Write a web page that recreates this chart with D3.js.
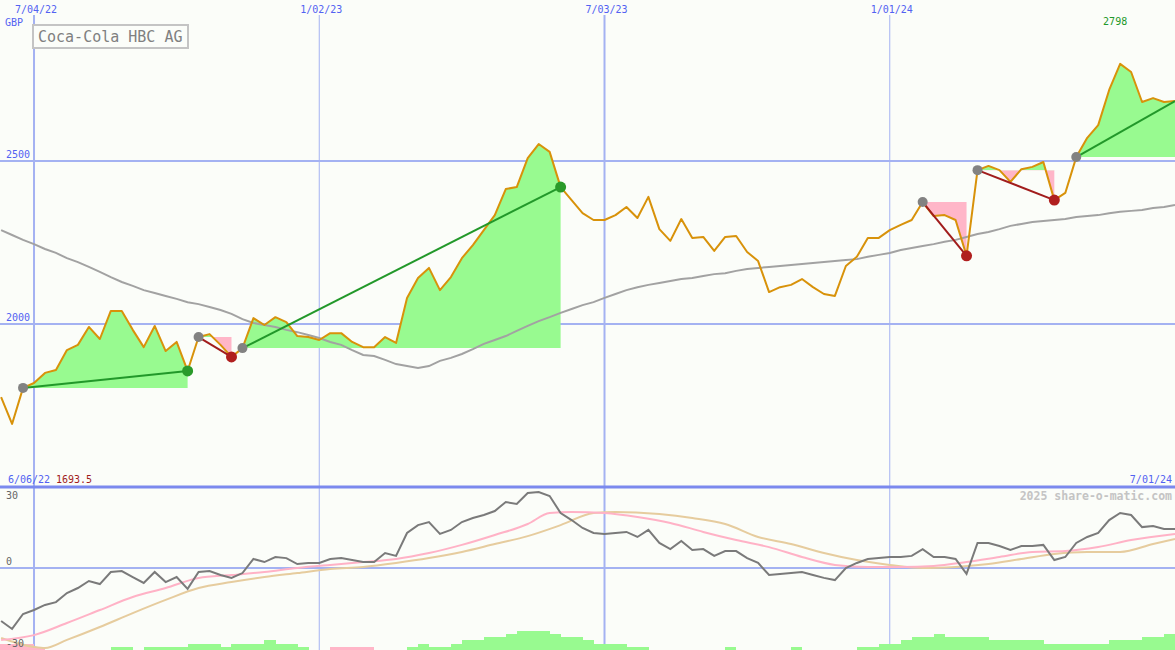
<!DOCTYPE html>
<html><head><meta charset="utf-8">
<script src="https://cdn.jsdelivr.net/npm/d3@7"></script>
<style>html,body{margin:0;padding:0;background:#fbfdf9;}svg{display:block;}</style>
</head><body>
<script>
const title = "Coca-Cola HBC AG";
const currency = "GBP";
const dateTickIdx = [3, 29, 55, 81];
const dateTickLabels = ["7/04/22", "1/02/23", "7/03/23", "1/01/24"];
const firstDateLabel = "6/06/22";
const lastDateLabel = "7/01/24";
const priceTicks = [2000, 2500];
const oscTicks = [30, 0, -30];
const watermark = "2025 share-o-matic.com";

const price = [1776,1693.5,1804,1819,1850,1859,1920,1936,1991,1954,
2040,2040,1982,1929,1994,1917,1945,1856,1960,1969,
1936,1899,1926,2018,1997,2021,2006,1963,1960,1951,
1972,1972,1945,1929,1929,1960,1942,2080,2141,2172,
2104,2144,2202,2242,2288,2334,2414,2420,2509,2552,
2528,2420,2380,2340,2319,2319,2334,2359,2325,2390,
2291,2255,2322,2264,2267,2224,2267,2270,2221,2193,
2098,2113,2120,2138,2113,2092,2086,2178,2206,2264,
2264,2288,2304,2319,2374,2331,2334,2319,2209,2472,
2485,2472,2436,2475,2482,2497,2380,2402,2512,2571,
2610,2718,2798,2773,2681,2693,2681,2684];

const movingAvg = [2288,2273,2258,2245,2230,2218,2202,2190,2175,2160,
2144,2129,2117,2104,2095,2086,2077,2067,2061,2052,
2043,2031,2015,2003,1997,1991,1982,1975,1966,1957,
1945,1936,1920,1905,1902,1890,1877,1871,1865,1871,
1887,1896,1908,1923,1939,1951,1963,1979,1994,2009,
2021,2034,2046,2058,2067,2080,2092,2104,2113,2120,
2126,2132,2138,2141,2147,2153,2156,2163,2169,2172,
2175,2178,2181,2184,2187,2190,2193,2196,2199,2206,
2212,2218,2227,2233,2239,2245,2252,2258,2267,2276,
2282,2291,2301,2307,2313,2316,2319,2322,2328,2331,
2334,2340,2344,2347,2350,2356,2359,2365];

const tradeEntry = [2, 18, 22, 84, 89, 98];
const tradeExit  = [17, 21, 51, 88, 96, 107];
const tradeClosed = [true, true, true, true, true, false];

const oscMain = [-24.1,-27.7,-20.9,-19.1,-16.8,-15.5,-11.4,-9.1,-5.9,-7.3,
-1.8,-1.4,-4.1,-6.8,-1.8,-6.4,-4.1,-9.5,-1.8,-1.4,
-3.2,-4.5,-2.3,4.1,2.7,5.0,4.5,1.8,2.3,2.3,
4.1,4.5,3.6,2.7,2.7,6.8,5.5,15.9,19.5,20.9,
15.5,17.3,20.9,22.7,24.1,25.9,30.0,29.1,34.1,34.5,
32.7,25.0,21.8,18.2,15.9,15.5,15.9,16.4,14.1,17.3,
11.4,8.6,12.3,8.2,8.6,5.5,7.7,7.7,4.5,2.3,
-3.2,-2.7,-2.3,-1.8,-3.2,-4.5,-5.5,0,2.3,4.1,
4.5,5.0,5.0,5.5,8.6,5.0,5.0,4.1,-2.7,11.4,
11.4,10.0,8.2,10.0,10.0,10.5,3.6,5.0,11.4,14.1,
15.9,21.8,25.0,24.1,18.6,19.1,17.7,17.7];

const oscPinkIdx = [0,3,6,9,12,15,18,21,24,27,30,33,36,39,42,45,48,50,52,55,58,61,64,67,70,73,76,79,82,85,88,91,94,97,100,103,107];
const oscPink = [-32.7,-30.5,-25,-19.1,-13.2,-9.1,-4.5,-3.2,-1.8,0,1.4,2.7,4.1,6.8,10.5,15,20,25,25.5,25,23.2,20.5,16.4,12.7,9.5,5,1.4,0.5,0.5,0.9,2.7,5,7.3,7.7,9.5,12.7,15.5];

const oscTanIdx = [0,3,4,6,9,12,15,18,21,24,27,30,33,36,39,42,45,48,51,54,56,60,63,66,69,72,75,78,81,84,87,90,93,96,99,102,105,107];
const oscTan = [-31.8,-35.9,-36.4,-32.7,-26.8,-20.5,-14.5,-9.1,-6.4,-4.1,-2.3,-0.5,0.5,2.3,4.5,7.3,10.9,14.5,19.5,25,25.5,24.5,22.7,20,14.1,10.9,6.8,3.6,1.4,0,0.5,1.8,4.1,6.4,7.3,7.3,10.9,13.2];

const hist = [-2,-2,-2,-2,-0.6,0,0,0,0,0,
0,1,1,0,1,1,1,1,2,2,
2,1,2,2,2,3,2,2,1,0,
0,-1,-1,-1,-1,0,0,0,1,2,
1,1,2,3,3,4,4,5,6,6,
6,5,4,4,3,2,2,2,1,1,
0,0,0,0,0,0,0,1,0,0,
0,0,0,1,0,0,0,0,0,1,
1,2,2,3,4,4,5,4,4,4,
4,3,3,3,3,3,2,2,2,2,
2,2,3,3,3,4,4,5];

const W = 1175, H = 650;
const svg = d3.select("body").append("svg").attr("width", W).attr("height", H)
  .style("font-family", "'DejaVu Sans Mono', monospace");
svg.append("rect").attr("width", W).attr("height", H).attr("fill", "#fbfdf9");

const x = d3.scaleLinear().domain([0, price.length - 1]).range([1.1, 1175]);
const y = d3.scaleLinear().domain([2000, 2500]).range([324, 161]);
const yo = d3.scaleLinear().domain([-30, 30]).range([634, 502]);
const hh = d3.scaleLinear().domain([0, 6]).range([0, 19.2]);
const step = x(1) - x(0);

const gridBlue = "#a4b2f2", labelBlue = "#5262f2";

// Vertical grid lines
dateTickIdx.forEach((d, i) => {
  svg.append("line").attr("x1", x(d)).attr("x2", x(d)).attr("y1", 15).attr("y2", H)
    .attr("stroke", gridBlue).attr("stroke-width", i % 2 === 0 ? 2 : 1);
  svg.append("text").attr("x", x(d) + 2).attr("y", 13).attr("text-anchor", "middle")
    .attr("font-size", 10).attr("fill", labelBlue).text(dateTickLabels[i]);
});

// Horizontal price grid
priceTicks.forEach(t => {
  svg.append("line").attr("x1", 0).attr("x2", W).attr("y1", y(t)).attr("y2", y(t))
    .attr("stroke", gridBlue).attr("stroke-width", 2);
});

// Lower panel: zero line + separator
svg.append("line").attr("x1", 0).attr("x2", W).attr("y1", yo(0)).attr("y2", yo(0))
  .attr("stroke", gridBlue).attr("stroke-width", 2);
svg.append("line").attr("x1", 0).attr("x2", W).attr("y1", 487).attr("y2", 487)
  .attr("stroke", "#7b89ee").attr("stroke-width", 3);

// Histogram
svg.append("g").selectAll("rect").data(hist).join("rect")
  .attr("x", (d, i) => x(i) - step)
  .attr("width", step + 0.3)
  .attr("y", d => H - hh(Math.abs(d)))
  .attr("height", d => hh(Math.abs(d)))
  .attr("fill", d => d >= 0 ? "#98fa90" : "#ffb6c8")
  .attr("shape-rendering", "crispEdges");

// Trade fills
const defs = svg.append("defs");
tradeEntry.forEach((e, k) => {
  const xE = tradeExit[k];
  const lvl = price[e];
  const idx = d3.range(e, xE + 1);
  const area = d3.area().x(i => x(i)).y0(y(lvl)).y1(i => y(price[i]));
  const cidU = "cu" + k, cidD = "cd" + k;
  defs.append("clipPath").attr("id", cidU).append("rect")
    .attr("x", 0).attr("y", 0).attr("width", W).attr("height", y(lvl));
  defs.append("clipPath").attr("id", cidD).append("rect")
    .attr("x", 0).attr("y", y(lvl)).attr("width", W).attr("height", 487 - y(lvl));
  svg.append("path").attr("d", area(idx)).attr("fill", "#98fa90").attr("clip-path", `url(#${cidU})`);
  svg.append("path").attr("d", area(idx)).attr("fill", "#ffb6c8").attr("clip-path", `url(#${cidD})`);
});

// Moving average
svg.append("path").datum(movingAvg)
  .attr("d", d3.line().x((d, i) => x(i)).y(d => y(d)))
  .attr("fill", "none").attr("stroke", "#a2a2a2").attr("stroke-width", 2);

// Price line
svg.append("path").datum(price)
  .attr("d", d3.line().x((d, i) => x(i)).y(d => y(d)))
  .attr("fill", "none").attr("stroke", "#d8920a").attr("stroke-width", 2)
  .attr("stroke-linejoin", "round");

// Trade lines & markers
tradeEntry.forEach((e, k) => {
  const xE = tradeExit[k];
  const win = price[xE] >= price[e];
  svg.append("line").attr("x1", x(e)).attr("y1", y(price[e])).attr("x2", x(xE)).attr("y2", y(price[xE]))
    .attr("stroke", win ? "#22982a" : "#a11c1c").attr("stroke-width", 2);
});
tradeEntry.forEach((e, k) => {
  const xE = tradeExit[k];
  const win = price[xE] >= price[e];
  svg.append("circle").attr("cx", x(e)).attr("cy", y(price[e])).attr("r", 5).attr("fill", "#828282");
  if (tradeClosed[k]) {
    svg.append("circle").attr("cx", x(xE)).attr("cy", y(price[xE])).attr("r", 5.5)
      .attr("fill", win ? "#2a9a2a" : "#b01f1f");
  }
});

// Oscillator lines
const lower = svg.append("g");
defs.append("clipPath").attr("id", "lowclip").append("rect").attr("x", 0).attr("y", 489).attr("width", W).attr("height", H - 489);
lower.attr("clip-path", "url(#lowclip)");
lower.append("path").datum(oscTan.map((v, j) => [oscTanIdx[j], v]))
  .attr("d", d3.line().x(d => x(d[0])).y(d => yo(d[1])).curve(d3.curveMonotoneX))
  .attr("fill", "none").attr("stroke", "#e6cc9e").attr("stroke-width", 2);
lower.append("path").datum(oscPink.map((v, j) => [oscPinkIdx[j], v]))
  .attr("d", d3.line().x(d => x(d[0])).y(d => yo(d[1])).curve(d3.curveMonotoneX))
  .attr("fill", "none").attr("stroke", "#ffb2c6").attr("stroke-width", 2);
lower.append("path").datum(oscMain)
  .attr("d", d3.line().x((d, i) => x(i)).y(d => yo(d)))
  .attr("fill", "none").attr("stroke", "#7a7a7a").attr("stroke-width", 2);

// Texts
svg.append("text").attr("x", 5).attr("y", 26).attr("font-size", 10).attr("fill", labelBlue).text(currency);
priceTicks.forEach(t => {
  svg.append("text").attr("x", 6).attr("y", y(t) - 3).attr("font-size", 10).attr("fill", labelBlue).text(t);
});
svg.append("rect").attr("x", 33).attr("y", 25).attr("width", 155).attr("height", 23)
  .attr("fill", "#fbfdf9").attr("stroke", "#c4c4c4").attr("stroke-width", 2);
svg.append("text").attr("x", 38).attr("y", 42).attr("font-size", 15).attr("fill", "#808080").text(title);

const maxI = d3.maxIndex(price), minI = d3.minIndex(price);
svg.append("text").attr("x", x(maxI) - 5).attr("y", 25).attr("text-anchor", "middle")
  .attr("font-size", 10).attr("fill", "#22982a").text(price[maxI]);

svg.append("text").attr("x", 8).attr("y", 483).attr("font-size", 10).attr("fill", labelBlue).text(firstDateLabel);
svg.append("text").attr("x", 56).attr("y", 483).attr("font-size", 10).attr("fill", "#a11c1c").text(price[minI].toFixed(1));
svg.append("text").attr("x", 1172).attr("y", 483).attr("text-anchor", "end").attr("font-size", 10).attr("fill", labelBlue).text(lastDateLabel);
svg.append("text").attr("x", 1172).attr("y", 500).attr("text-anchor", "end").attr("font-size", 11.5)
  .attr("font-weight", "bold").attr("fill", "#c4c4c4").text(watermark);

oscTicks.forEach(t => {
  const ty = t === -30 ? 647 : yo(t) - 3;
  svg.append("text").attr("x", 6).attr("y", ty).attr("font-size", 10).attr("fill", "#666").text(t);
});
</script>
</body></html>
